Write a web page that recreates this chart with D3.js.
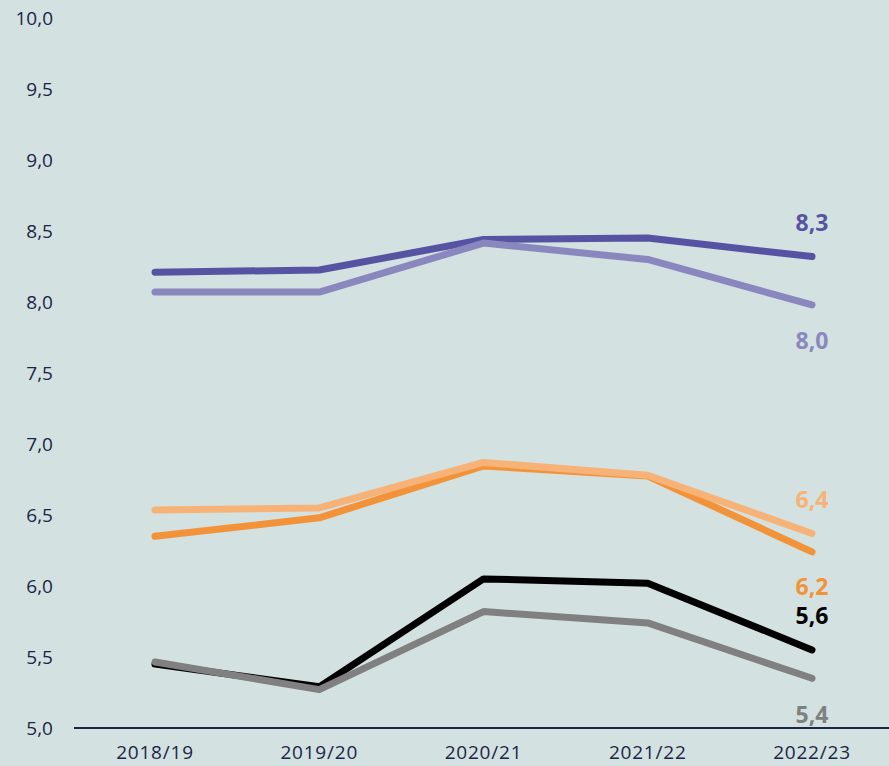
<!DOCTYPE html>
<html>
<head>
<meta charset="utf-8">
<script src="https://cdn.jsdelivr.net/npm/d3@7"></script>
<style>
  html, body { margin: 0; padding: 0; background: #d3e1e0; }
  svg { display: block; }
</style>
</head>
<body>
<div id="chart"></div>
<script>
var years = ["2018/19", "2019/20", "2020/21", "2021/22", "2022/23"];
var yTicks = [5.0, 5.5, 6.0, 6.5, 7.0, 7.5, 8.0, 8.5, 9.0, 9.5, 10.0];

var darkPurple = [8.21, 8.225, 8.44, 8.45, 8.32];
var lightPurple = [8.07, 8.07, 8.415, 8.30, 7.98];
var lightOrange = [6.535, 6.55, 6.87, 6.78, 6.37];
var orange = [6.35, 6.48, 6.845, 6.775, 6.24];
var black = [5.45, 5.29, 6.05, 6.02, 5.55];
var grey = [5.465, 5.27, 5.82, 5.74, 5.35];

var endLabels = ["8,3", "8,0", "6,4", "6,2", "5,6", "5,4"];

var series = [
  {values: darkPurple, color: "#5654a2", label: endLabels[0], dy: -34},
  {values: lightPurple, color: "#8a87bf", label: endLabels[1], dy: 36},
  {values: orange, color: "#f39339", label: endLabels[3], dy: 35},
  {values: lightOrange, color: "#f7b377", label: endLabels[2], dy: -34},
  {values: black, color: "#000000", label: endLabels[4], dy: -34},
  {values: grey, color: "#808080", label: endLabels[5], dy: 37}
];

var width = 889, height = 766;
var fmt = function(v) { return d3.format(".1f")(v).replace(".", ","); };

var svg = d3.select("#chart").append("svg")
  .attr("width", width)
  .attr("height", height);

var x = d3.scalePoint()
  .domain(years)
  .range([155, 812]);

var y = d3.scaleLinear()
  .domain([5, 10])
  .range([728, 18]);

// y tick labels
svg.append("g")
  .selectAll("text")
  .data(yTicks)
  .enter()
  .append("text")
  .attr("x", 53)
  .attr("y", function(d) { return y(d); })
  .attr("dy", "0.35em")
  .attr("text-anchor", "end")
  .style("font-family", "'Open Sans', sans-serif")
  .style("font-size", "19px")
  .style("fill", "#1b2547")
  .text(fmt);

// x axis line
svg.append("line")
  .attr("x1", 74).attr("x2", width)
  .attr("y1", y(5)).attr("y2", y(5))
  .attr("stroke", "#1b2547")
  .attr("stroke-width", 2);

// x labels
svg.append("g")
  .selectAll("text")
  .data(years)
  .enter()
  .append("text")
  .attr("x", function(d) { return x(d); })
  .attr("y", 752)
  .attr("dy", "0.35em")
  .attr("text-anchor", "middle")
  .style("font-family", "'Open Sans', sans-serif")
  .style("font-size", "19px")
  .style("letter-spacing", "0.8px")
  .style("fill", "#1b2547")
  .text(function(d) { return d; });

var line = d3.line()
  .x(function(d, i) { return x(years[i]); })
  .y(function(d) { return y(d); });

svg.append("g")
  .selectAll("path")
  .data(series)
  .enter()
  .append("path")
  .attr("d", function(d) { return line(d.values); })
  .attr("fill", "none")
  .attr("stroke", function(d) { return d.color; })
  .attr("stroke-width", 7)
  .attr("stroke-linecap", "round")
  .attr("stroke-linejoin", "round");

// end labels
svg.append("g")
  .selectAll("text")
  .data(series)
  .enter()
  .append("text")
  .attr("x", x(years[years.length - 1]))
  .attr("y", function(d) { return y(d.values[d.values.length - 1]) + d.dy; })
  .attr("dy", "0.35em")
  .attr("text-anchor", "middle")
  .style("font-family", "'Open Sans', sans-serif")
  .style("font-weight", "bold")
  .style("font-size", "23px")
  .style("fill", function(d) { return d.color; })
  .text(function(d) { return d.label; });
</script>
</body>
</html>
